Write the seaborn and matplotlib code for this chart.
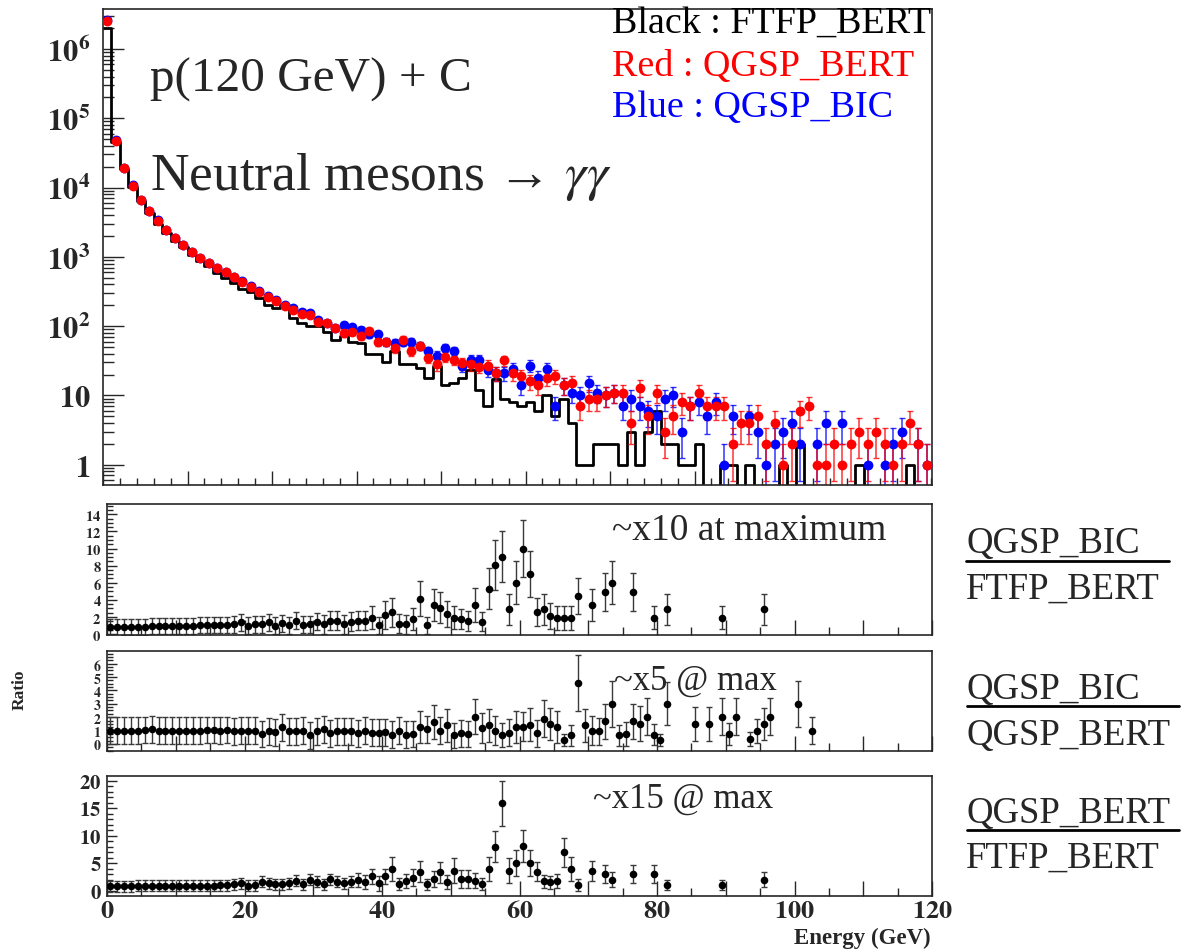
import numpy as np
import pandas as pd
import matplotlib
matplotlib.use("Agg")
import matplotlib.pyplot as plt
import seaborn as sns
from matplotlib.ticker import MultipleLocator, LogLocator, FuncFormatter, NullFormatter
from matplotlib.lines import Line2D

# ---------------- data (counts per 1 GeV bin, bins start at 0 GeV) ----------------
black_counts = [2000000, 46000, 18500, 10200, 6300, 4300, 2950, 2240, 1700, 1380,
                1070, 871, 741, 589, 490, 417, 343, 316, 254, 204,
                182, 200, 132, 111, 102, 102, 83, 63, 71, 60,
                57, 40, 40, 30, 44, 28, 28, 25, 18, 27,
                14, 15, 18, 23, 12, 7, 17, 9, 8, 7,
                8, 6, 10, 5, 9, 4, 1, 1, 2, 2,
                2, 1, 3, 1, 3, 6, 2, 2, 1, 1,
                2, 0, 0, 1, 1, 0, 1, 0, 0, 0,
                1, 0, 2, 0, 0, 0, 0, 0, 0, 1,
                0, 0, 0, 0, 0, 1, 0, 0]
red_counts = [2570000, 47300, 19000, 10700, 6600, 4570, 3310, 2400, 1860, 1480,
              1160, 955, 813, 692, 603, 513, 437, 372, 316, 263,
              234, 195, 170, 151, 145, 115, 112, 95, 79, 83,
              72, 84, 60, 59, 48, 63, 44, 52, 35, 28,
              36, 33, 29, 28, 26, 27, 21,
              32, 21, 19, 16, 14, 18, 19, 14, 15, 7,
              9, 9, 10, 11, 11, 4, 13, 5, 11, 3,
              5, 8, 7, 11, 7, 7, 7, 2, 4, 4,
              5, 2, 4, 1, 2, 6, 7, 1, 1, 2,
              1, 2, 3, 2, 3, 2, 1, 2, 4, 2, 1]
blue_counts = [2620000, 47800, 19200, 10800, 6700, 4600, 3350, 2430, 1880, 1500,
               1170, 965, 825, 700, 612, 520, 445, 378, 322, 268,
               240, 200, 182, 158, 155, 123, 112, 95, 105, 98,
               87, 77, 76, 59, 58, 59, 59, 52, 44, 37,
               49, 44, 27, 33, 33, 23, 21,
               21, 24, 14, 27, 18, 24, 7, 14, 11, 10,
               15, 11, 10, 11, 7, 9, 7, 6, 5, 9,
               10, 3, 7, 8, 5, 8, 1, 5, 0, 5,
               3, 1, 2, 3, 4, 2, 0, 2, 4, 0,
               4, 0, 0, 1, 0, 1, 2, 3, 0, 2, 1]

# ratio QGSP_BIC / FTFP_BERT
r1_bins = list(range(0, 69)) + [70, 72, 73, 76, 79, 81, 89, 95]
r1_vals = [0.78, 0.78, 0.86, 0.86, 0.86, 0.86, 0.97, 0.97, 0.97, 0.97,
           0.97, 0.97, 0.97, 1.05, 1.05, 1.05, 1.05, 1.05, 1.17, 1.36,
           0.97, 1.17, 1.17, 1.36, 0.97, 1.28, 1.05, 1.56, 1.09, 1.17,
           1.44, 1.17, 1.56, 1.56, 1.17, 1.44, 1.56, 1.56, 1.94, 1.05,
           2.22, 2.53, 1.24, 1.17, 1.75, 4.16, 1.05, 3.38, 3.11, 2.33,
           1.94, 1.75, 1.56, 3.38, 1.44, 5.33, 8.05, 9.06, 2.92, 6.03,
           10.0, 7.0, 2.6, 2.92, 2.14, 1.94, 1.94, 1.94, 4.47,
           3.38, 4.94, 6.03, 4.94, 1.94, 2.92, 1.94, 2.92]
r1_errs = [0.95] * 18 + [1.0] * 13 + [1.1] * 7 + \
          [1.36, 1.0, 1.6, 1.7, 1.1, 1.1, 1.3, 2.0, 1.0, 1.9,
           1.8, 1.55, 1.36, 1.2, 1.2, 2.0, 1.1, 2.4, 2.9, 3.0,
           1.8, 2.5, 3.3, 2.7, 1.6, 1.8, 1.55, 1.4, 1.4, 1.4, 2.1,
           1.9, 2.2, 2.5, 2.2, 1.36, 1.8, 1.36, 1.8]

# ratio QGSP_BIC / QGSP_BERT
r2_bins = list(range(0, 82)) + [85, 87, 89, 90, 91, 93, 94, 95, 96, 100, 102]
r2_vals = [1.0, 1.0, 1.0, 1.0, 1.0, 1.05, 1.08, 1.0, 1.0, 1.0,
           1.0, 1.0, 1.0, 1.0, 1.05, 1.05, 1.0, 1.05, 0.95, 1.0,
           1.0, 1.0, 0.75, 0.95, 0.88, 1.25, 0.95, 0.95, 1.0, 0.63,
           0.95, 1.08, 0.80, 0.95, 0.95, 0.95, 0.80, 1.0, 0.83, 0.83,
           0.88, 0.70, 1.0, 0.70, 0.75, 1.25, 1.08, 1.63, 1.0, 1.38,
           0.63, 0.80, 0.75, 2.05, 1.20, 1.38, 1.0, 0.70, 0.85, 1.25,
           1.3, 1.45, 0.8, 1.88, 1.5, 1.25, 0.3, 0.63, 4.56, 1.38,
           1.0, 0.95, 1.7, 3.0, 0.63, 0.75, 1.7, 1.5, 2.05, 0.7,
           0.3, 3.0,
           1.5, 1.5, 2.05, 0.75, 2.05, 0.38, 1.0, 1.5, 2.05, 3.0, 1.0]
r2_errs = [1.0] * 45 + \
          [1.2, 1.0, 1.25, 1.0, 1.2, 0.9, 1.0, 1.0, 1.3, 1.1,
           1.2, 1.1, 0.9, 1.0, 1.2, 1.05, 1.2, 1.0, 1.4, 1.2,
           1.2, 0.45, 0.8, 2.1, 1.2, 1.1, 1.0, 1.3, 1.7, 0.8,
           0.9, 1.3, 1.3, 1.4, 0.8, 0.45, 1.6,
           1.25, 1.25, 1.4, 0.8, 1.4, 0.5, 0.9, 1.2, 1.4, 1.7, 1.0]

# ratio QGSP_BERT / FTFP_BERT
r3_bins = list(range(0, 69)) + [70, 72, 73, 76, 79, 81, 89, 95]
r3_vals = [0.8, 0.8, 0.8, 0.8, 0.9, 0.9, 0.9, 0.9, 0.9, 0.9,
           0.9, 0.9, 0.92, 0.95, 0.92, 0.92, 1.04, 1.04, 1.22, 1.4,
           0.92, 1.04, 1.64, 1.4, 1.22, 1.22, 1.34, 1.82, 1.22, 2.0,
           1.64, 1.22, 2.13, 1.64, 1.34, 1.64, 1.94, 1.64, 2.61, 1.34,
           2.61, 3.95, 1.22, 1.82, 2.37, 3.46, 1.22, 2.13, 3.34, 1.64,
           3.64, 2.13, 2.13, 1.82, 1.22, 3.95, 8.0, 15.9, 3.64, 5.04,
           8.06, 5.04, 3.46, 1.70, 1.52, 1.82, 6.97, 3.95, 1.04,
           3.64, 3.03, 2.0, 3.03, 3.03, 1.04, 1.04, 2.0]
r3_errs = [1.0] * 36 + [1.3] * 5 + \
          [2.1, 1.1, 1.3, 1.5, 1.9, 1.0, 1.5, 1.9, 1.3, 2.3,
           1.6, 1.6, 1.4, 1.1, 2.1, 2.8, 4.1, 2.3, 2.3, 2.9,
           2.3, 1.7, 1.2, 1.2, 1.3, 2.6, 2.1, 1.15,
           1.85, 1.7, 1.4, 1.7, 1.7, 0.9, 0.9, 1.4]

ratio_names = [("QGSP_BIC", "FTFP_BERT"), ("QGSP_BIC", "QGSP_BERT"), ("QGSP_BERT", "FTFP_BERT")]
ratio_notes = ["~x10 at maximum", "~x5 @ max", "~x15 @ max"]

# ---------------- style ----------------
sns.set_style("ticks")
plt.rcParams['font.family'] = ['Liberation Serif', 'DejaVu Serif']
plt.rcParams['mathtext.fontset'] = 'stix'
plt.rcParams['axes.linewidth'] = 1.2

W, H = 1186, 953
fig = plt.figure(figsize=(W / 100, H / 100), dpi=100)
fig.patch.set_facecolor('white')


def box(l, t, r, b):
    return [l / W, 1 - b / H, (r - l) / W, (b - t) / H]


ax0 = fig.add_axes(box(103, 10, 932, 486))
ax1 = fig.add_axes(box(107, 505, 932, 636))
ax2 = fig.add_axes(box(107, 652, 932, 752))
ax3 = fig.add_axes(box(107, 777, 932, 897))

# ---------------- top panel ----------------
n = len(black_counts)
centers = np.arange(n) + 0.5
df_top = pd.DataFrame({'E': centers, 'FTFP_BERT': black_counts,
                       'QGSP_BERT': red_counts, 'QGSP_BIC': blue_counts})

sns.histplot(data=df_top, x='E', weights='FTFP_BERT', binwidth=1, binrange=(0, n),
             element='step', fill=False, color='black', linewidth=2.0, ax=ax0)

for col, color in [('QGSP_BIC', '#0000ff'), ('QGSP_BERT', '#ff0000')]:
    d = df_top[df_top[col] > 0]
    err = np.sqrt(d[col].to_numpy(dtype=float))
    ax0.errorbar(d['E'], d[col], yerr=err, fmt='none', ecolor=color, elinewidth=1.1,
                 capsize=2, capthick=1, alpha=0.8, zorder=2)
    sns.scatterplot(data=d, x='E', y=col, color=color, s=50, marker='o', linewidth=0,
                    ax=ax0, zorder=3, legend=False)

ax0.set_yscale('log')
ax0.set_xlim(0, 98.1)
ax0.set_ylim(0.51, 3.77e6)
ax0.set_xlabel('')
ax0.set_ylabel('')
ax0.xaxis.set_major_locator(MultipleLocator(10))
ax0.xaxis.set_minor_locator(MultipleLocator(2))
ax0.yaxis.set_major_locator(LogLocator(base=10, numticks=20))
ax0.yaxis.set_minor_locator(LogLocator(base=10, subs=np.arange(2, 10), numticks=20))


def logfmt(v, pos):
    e = int(round(np.log10(v)))
    if e == 0:
        return r'$\mathbf{1}$'
    if e == 1:
        return r'$\mathbf{10}$'
    return r'$\mathbf{10^{%d}}$' % e


ax0.yaxis.set_major_formatter(FuncFormatter(logfmt))
ax0.yaxis.set_minor_formatter(NullFormatter())
ax0.tick_params(axis='x', which='major', direction='in', length=10, width=1, labelbottom=False)
ax0.tick_params(axis='x', which='minor', direction='in', length=5, width=1)
ax0.tick_params(axis='y', which='major', direction='in', length=15, width=1, labelsize=22, pad=9)
ax0.tick_params(axis='y', which='minor', direction='in', length=8, width=1)

# ---------------- ratio panels ----------------
ratio_sets = [(ax1, r1_bins, r1_vals, r1_errs, (-0.1, 15.2), 2, 0.5, 10.5),
              (ax2, r2_bins, r2_vals, r2_errs, (-0.53, 6.95), 1, 0.25, 10),
              (ax3, r3_bins, r3_vals, r3_errs, (-0.95, 20.85), 5, 1, 15)]

for ax, bins, vals, errs, ylim, ymaj, ymin_, lsz in ratio_sets:
    df = pd.DataFrame({'E': np.asarray(bins) + 0.5, 'R': vals, 'err': errs})
    ax.errorbar(df['E'], df['R'], yerr=df['err'], fmt='none', ecolor='#3a3a3a',
                elinewidth=1.0, capsize=2.3, capthick=1, zorder=2)
    sns.scatterplot(data=df, x='E', y='R', color='black', s=30, linewidth=0,
                    ax=ax, zorder=3, legend=False)
    ax.set_xlim(0, 120)
    ax.set_ylim(*ylim)
    ax.set_xlabel('')
    ax.set_ylabel('')
    ax.xaxis.set_major_locator(MultipleLocator(10))
    ax.xaxis.set_minor_locator(MultipleLocator(5))
    ax.yaxis.set_major_locator(MultipleLocator(ymaj))
    ax.yaxis.set_minor_locator(MultipleLocator(ymin_))
    ax.yaxis.set_major_formatter(FuncFormatter(
        lambda v, p: r'$\mathbf{%d}$' % int(round(v)) if v > -0.01 else ''))
    ax.tick_params(axis='x', which='major', direction='in', length=11, width=1)
    ax.tick_params(axis='x', which='minor', direction='in', length=6, width=1)
    ax.tick_params(axis='y', which='major', direction='in', length=7, width=1,
                   labelsize=lsz, pad=4)
    ax.tick_params(axis='y', which='minor', direction='in', length=4, width=1)
    if ax is not ax3:
        ax.tick_params(axis='x', labelbottom=False)

ax3.xaxis.set_major_formatter(FuncFormatter(
    lambda v, p: r'$\mathbf{%d}$' % int(round(v)) if int(round(v)) % 20 == 0 else ''))
ax3.tick_params(axis='x', which='major', labelsize=19, pad=3)

# ---------------- texts ----------------
def ftext(x, y, s, **kw):
    fig.text(x / W, 1 - y / H, s, **kw)


ftext(150, 92, "p(120 GeV) + C", fontsize=35.5, va='baseline', ha='left')
ftext(150, 190, "Neutral mesons \u2192 $\\gamma\\gamma$", fontsize=38.5, va='baseline', ha='left')
ftext(612, 33, "Black : FTFP_BERT", fontsize=27.4, color='black', va='baseline')
ftext(612, 76, "Red : QGSP_BERT", fontsize=27.4, color='#ff0000', va='baseline')
ftext(612, 117, "Blue : QGSP_BIC", fontsize=27.4, color='#0000ff', va='baseline')

ftext(612, 540, ratio_notes[0], fontsize=27, va='baseline')
ftext(614, 690, ratio_notes[1], fontsize=25, va='baseline')
ftext(593, 808, ratio_notes[2], fontsize=25, va='baseline')

frac_pos = [(553, 561.7, 599, 966, 1169), (699, 706.7, 745, 967, 1179), (823, 831, 868, 967, 1179)]
for (num, den), (yn, yl, yd, x0, x1) in zip(ratio_names, frac_pos):
    ftext(966, yn, num, fontsize=26.5, va='baseline')
    ftext(966, yd, den, fontsize=26.5, va='baseline')
    fig.add_artist(Line2D([x0 / W, x1 / W], [1 - yl / H, 1 - yl / H],
                          color='black', linewidth=2.0, transform=fig.transFigure))

ftext(20, 690, "Ratio", fontsize=12.5, fontweight='bold', rotation=90, ha='center', va='center')
ftext(931, 944, "Energy (GeV)", fontsize=16.5, fontweight='bold', ha='right', va='baseline')

fig.savefig("out.png", dpi=100, facecolor='white')
